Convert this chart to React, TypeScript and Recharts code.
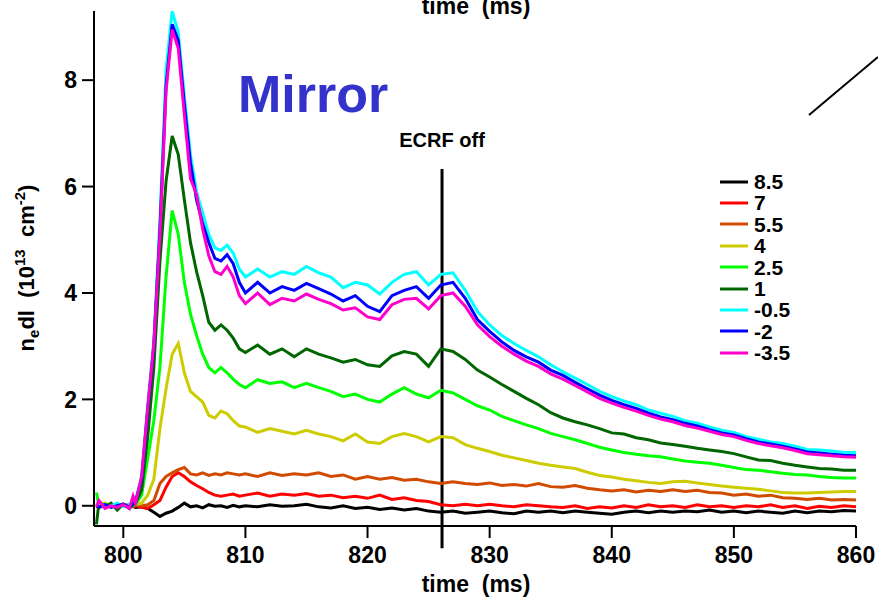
import React from "react";
import {
  LineChart,
  Line,
  XAxis,
  YAxis,
  Legend,
  ReferenceLine,
} from "recharts";

// time samples (ms)
const TIMES = [
  797.8, 798, 798.5, 799, 799.5, 800, 800.5, 800.8, 801, 801.5, 802, 802.5, 803,
  803.5, 804, 804.5, 805, 805.5, 806, 806.5, 807, 807.5, 808, 808.5, 809, 809.5,
  810, 811, 812, 813, 814, 815, 816, 817, 818, 819, 820, 821, 822, 823, 824, 825,
  826, 827, 828, 829, 830, 831, 832, 833, 834, 835,
  836, 837, 838, 839, 840, 841, 842, 843, 844, 845, 846, 847, 848, 849, 850, 851,
  852, 853, 854, 855, 856, 857, 858, 859, 860,
];

// line-integrated density per chord position (10^13 cm^-2)
const N_85 = [
  0.0, -0.03, 0.0, 0.02, -0.02, 0.0, -0.02, 0.0, -0.03, -0.02, -0.05, -0.12, -0.2,
  -0.14, -0.1, -0.03, 0.05, -0.02, 0.0, -0.04, 0.02, -0.01, 0.0, -0.03, 0.01, -0.02,
  0.0, -0.02, 0.02, -0.01, 0.0, 0.03, -0.02, -0.04, 0.0, -0.05, -0.03, -0.07, -0.04, -0.08, -0.05, -0.1,
  -0.12, -0.1, -0.14, -0.12, -0.1, -0.13, -0.15, -0.1, -0.12, -0.1,
  -0.13, -0.1, -0.12, -0.14, -0.16, -0.12, -0.1, -0.13, -0.1, -0.12, -0.1, -0.11, -0.08, -0.12, -0.1, -0.13,
  -0.1, -0.12, -0.14, -0.1, -0.13, -0.1, -0.11, -0.09, -0.1,
];
const N_7 = [
  0.0, -0.02, 0.02, 0.0, -0.03, 0.0, 0.02, -0.02, 0.0, -0.03, -0.05, 0.02, 0.1,
  0.35, 0.55, 0.62, 0.55, 0.45, 0.38, 0.32, 0.25, 0.2, 0.18, 0.2, 0.22, 0.18,
  0.2, 0.24, 0.18, 0.22, 0.2, 0.23, 0.18, 0.2, 0.15, 0.18, 0.14, 0.2, 0.12, 0.15, 0.1, 0.08,
  0.02, 0.0, 0.03, 0.0, 0.03, 0.0, -0.02, 0.02, 0.0, -0.02,
  -0.03, 0.0, -0.05, -0.02, -0.04, 0.0, -0.03, 0.02, -0.02, 0.0, -0.03, 0.02, -0.02, 0.0, -0.03, 0.0,
  -0.02, 0.02, -0.03, 0.0, -0.05, -0.01, -0.03, 0.0, -0.02,
];
const N_55 = [
  0.0, 0.03, 0.0, 0.02, -0.02, 0.0, 0.02, 0.0, 0.02, 0.0, 0.02, 0.1, 0.42,
  0.55, 0.62, 0.68, 0.72, 0.6, 0.58, 0.62, 0.57, 0.6, 0.58, 0.62, 0.6, 0.58,
  0.6, 0.55, 0.62, 0.57, 0.6, 0.58, 0.62, 0.55, 0.58, 0.5, 0.55, 0.5, 0.53, 0.48, 0.5, 0.45,
  0.42, 0.45, 0.42, 0.4, 0.43, 0.38, 0.4, 0.37, 0.42, 0.36,
  0.35, 0.38, 0.33, 0.3, 0.28, 0.3, 0.26, 0.29, 0.27, 0.3, 0.27, 0.29, 0.25, 0.24, 0.2, 0.22,
  0.18, 0.2, 0.15, 0.14, 0.12, 0.14, 0.11, 0.12, 0.11,
];
const N_4 = [
  0.0, 0.02, 0.05, 0.0, -0.02, 0.02, 0.0, 0.03, 0.02, 0.05, 0.2, 0.5, 1.45,
  2.2, 2.85, 3.05, 2.5, 2.15, 2.05, 1.95, 1.7, 1.65, 1.78, 1.73, 1.6, 1.5,
  1.48, 1.38, 1.45, 1.4, 1.35, 1.42, 1.35, 1.3, 1.22, 1.35, 1.2, 1.17, 1.3, 1.36, 1.3, 1.2,
  1.3, 1.28, 1.15, 1.08, 1.02, 0.95, 0.9, 0.85, 0.8, 0.76,
  0.73, 0.7, 0.63, 0.57, 0.54, 0.5, 0.47, 0.44, 0.42, 0.45, 0.46, 0.43, 0.4, 0.37, 0.35, 0.33,
  0.31, 0.28, 0.25, 0.24, 0.24, 0.25, 0.26, 0.27, 0.27,
];
const N_25 = [
  0.25, 0.0, 0.03, -0.02, 0.0, 0.02, -0.03, 0.0, 0.03, 0.2, 0.9, 1.6, 2.6,
  4.3, 5.55, 5.1, 4.2, 3.6, 3.2, 2.85, 2.6, 2.5, 2.6, 2.5, 2.38, 2.28,
  2.22, 2.37, 2.3, 2.33, 2.22, 2.3, 2.22, 2.15, 2.05, 2.1, 2.0, 1.95, 2.1, 2.22, 2.1, 2.03,
  2.17, 2.12, 2.0, 1.88, 1.8, 1.68, 1.6, 1.52, 1.45, 1.36,
  1.3, 1.24, 1.17, 1.1, 1.05, 1.0, 0.97, 0.94, 0.92, 0.88, 0.84, 0.82, 0.8, 0.76, 0.72, 0.68,
  0.67, 0.64, 0.61, 0.59, 0.58, 0.55, 0.53, 0.52, 0.52,
];
const N_1 = [
  -0.35, 0.05, -0.02, 0.05, -0.08, 0.03, -0.05, 0.02, 0.05, 0.3, 1.3, 2.6, 4.6,
  6.1, 6.95, 6.6, 5.75, 4.95, 4.4, 3.95, 3.45, 3.3, 3.4, 3.3, 3.15, 2.95,
  2.88, 3.02, 2.85, 2.95, 2.8, 2.95, 2.85, 2.78, 2.7, 2.75, 2.65, 2.62, 2.82, 2.9, 2.85, 2.62,
  2.95, 2.9, 2.75, 2.55, 2.42, 2.28, 2.15, 2.02, 1.9, 1.75,
  1.65, 1.58, 1.52, 1.45, 1.37, 1.35, 1.28, 1.24, 1.18, 1.15, 1.12, 1.08, 1.05, 1.02, 0.98, 0.92,
  0.86, 0.85, 0.8, 0.76, 0.73, 0.7, 0.69, 0.67, 0.67,
];
const N_M05 = [
  0.0, 0.02, -0.03, 0.0, 0.05, -0.02, 0.03, 0.08, 0.1, 0.55, 1.9, 3.1, 5.4,
  8.2, 9.3, 8.9, 7.7, 6.6, 5.9, 5.5, 5.1, 4.85, 4.8, 4.9, 4.75, 4.45,
  4.3, 4.45, 4.3, 4.4, 4.35, 4.5, 4.38, 4.3, 4.1, 4.2, 4.15, 3.98, 4.2, 4.35, 4.4, 4.15,
  4.35, 4.38, 4.05, 3.65, 3.4, 3.2, 3.05, 2.92, 2.8, 2.65,
  2.52, 2.4, 2.28, 2.15, 2.05, 1.97, 1.9, 1.8, 1.74, 1.68, 1.6, 1.55, 1.48, 1.42, 1.38, 1.3,
  1.25, 1.2, 1.17, 1.12, 1.06, 1.05, 1.03, 1.0, 1.0,
];
const N_M2 = [
  0.0, -0.02, 0.02, -0.03, 0.0, 0.03, -0.02, 0.05, 0.08, 0.5, 1.8, 3.0, 5.2,
  7.9, 9.05, 8.75, 7.55, 6.45, 5.75, 5.3, 4.95, 4.65, 4.6, 4.72, 4.55, 4.2,
  4.0, 4.2, 4.0, 4.12, 4.05, 4.18, 4.08, 3.98, 3.85, 3.95, 3.75, 3.65, 3.95, 4.05, 4.12, 3.9,
  4.15, 4.2, 3.9, 3.5, 3.28, 3.08, 2.92, 2.8, 2.7, 2.55,
  2.45, 2.32, 2.2, 2.08, 1.98, 1.9, 1.83, 1.74, 1.67, 1.62, 1.55, 1.5, 1.43, 1.37, 1.33, 1.26,
  1.2, 1.16, 1.12, 1.07, 1.01, 0.99, 0.97, 0.95, 0.94,
];
const N_M35 = [
  -0.02, 0.1, -0.05, 0.0, -0.03, 0.02, -0.05, 0.18, 0.05, 0.55, 1.85, 3.05, 5.1,
  7.8, 8.95, 8.6, 7.35, 6.15, 5.85, 5.2, 4.7, 4.4, 4.35, 4.5, 4.3, 3.95,
  3.8, 4.0, 3.78, 3.9, 3.85, 3.98, 3.88, 3.8, 3.68, 3.72, 3.55, 3.5, 3.78, 3.88, 3.9, 3.7,
  3.95, 4.0, 3.75, 3.4, 3.18, 3.0, 2.85, 2.72, 2.62, 2.48,
  2.38, 2.26, 2.14, 2.02, 1.93, 1.85, 1.78, 1.7, 1.63, 1.58, 1.51, 1.46, 1.4, 1.34, 1.3, 1.23,
  1.17, 1.13, 1.09, 1.04, 0.98, 0.96, 0.94, 0.92, 0.91,
];

const X_TICKS = [800, 810, 820, 830, 840, 850, 860];
const Y_TICKS = [0, 2, 4, 6, 8];
const ECRF_OFF = 826.1;

const SERIES = [
  { key: "p85", name: "8.5", color: "#000000", values: N_85 },
  { key: "p7", name: "7", color: "#FF0000", values: N_7 },
  { key: "p55", name: "5.5", color: "#D04A00", values: N_55 },
  { key: "p4", name: "4", color: "#CCCC00", values: N_4 },
  { key: "p25", name: "2.5", color: "#00FF00", values: N_25 },
  { key: "p1", name: "1", color: "#006600", values: N_1 },
  { key: "m05", name: "-0.5", color: "#00FFFF", values: N_M05 },
  { key: "m2", name: "-2", color: "#0000FF", values: N_M2 },
  { key: "m35", name: "-3.5", color: "#FF00CC", values: N_M35 },
];

const chartData = TIMES.map((t, i) => {
  const row: Record<string, number> = { t };
  SERIES.forEach((s) => {
    row[s.key] = s.values[i];
  });
  return row;
});

const FONT = "'Liberation Sans', Arial, Helvetica, sans-serif";

function LegendList({ payload }: { payload?: Array<{ value: string; color: string }> }) {
  if (!payload) return null;
  // keep the legend in chord order, same as SERIES
  const order = SERIES.map((s) => s.name);
  const items = [...payload].sort(
    (a, b) => order.indexOf(String(a.value)) - order.indexOf(String(b.value))
  );
  return (
    <div style={{ fontFamily: FONT, fontWeight: "bold", fontSize: 21 }}>
      {items.map((entry, i) => (
        <div
          key={i}
          style={{ display: "flex", alignItems: "center", height: 21.4 }}
        >
          <svg width={36} height={6} style={{ display: "block" }}>
            <line x1={2} y1={3} x2={30} y2={3} stroke={entry.color} strokeWidth={3} />
          </svg>
          <span style={{ lineHeight: "21.4px" }}>{entry.value}</span>
        </div>
      ))}
    </div>
  );
}

export default function App() {
  return (
    <div style={{ position: "absolute", left: 0, top: 0, width: 878, height: 599, background: "#fff" }}>
      <LineChart
        width={878}
        height={599}
        data={chartData}
        margin={{ top: 11, right: 22, bottom: 33, left: 34 }}
      >
        <XAxis
          dataKey="t"
          type="number"
          domain={[797.6, 860]}
          ticks={X_TICKS}
          allowDataOverflow
          height={40}
          tickSize={12}
          tickMargin={9}
          axisLine={{ stroke: "#000", strokeWidth: 2 }}
          tickLine={{ stroke: "#000", strokeWidth: 2 }}
          tick={{ fontSize: 23, fontWeight: "bold", fill: "#000", fontFamily: FONT }}
        />
        <YAxis
          type="number"
          domain={[-0.38, 9.3]}
          ticks={Y_TICKS}
          allowDataOverflow
          width={60}
          tickSize={12}
          tickMargin={5}
          axisLine={{ stroke: "#000", strokeWidth: 2 }}
          tickLine={{ stroke: "#000", strokeWidth: 2 }}
          tick={{ fontSize: 23, fontWeight: "bold", fill: "#000", fontFamily: FONT }}
        />
        {/* vertical + center + middle: the legend takes no room from the plot */}
        <Legend
          layout="vertical"
          verticalAlign="middle"
          align="center"
          content={<LegendList />}
          wrapperStyle={{ position: "absolute", left: 718, top: 171, width: 120 }}
        />
        <ReferenceLine
          segment={[
            { x: ECRF_OFF, y: 6.33 },
            { x: ECRF_OFF, y: -0.8 },
          ]}
          stroke="#000"
          strokeWidth={3}
          ifOverflow="visible"
          label={{
            value: "ECRF off",
            position: "top",
            offset: 22,
            fill: "#000",
            fontSize: 20,
            fontWeight: "bold",
            fontFamily: FONT,
          }}
        />
        {SERIES.map((s) => (
          <Line
            key={s.key}
            dataKey={s.key}
            name={s.name}
            stroke={s.color}
            strokeWidth={3}
            dot={false}
            type="linear"
            isAnimationActive={false}
          />
        ))}
      </LineChart>
      <svg
        width={878}
        height={599}
        style={{ position: "absolute", left: 0, top: 0, pointerEvents: "none" }}
      >
        <text
          x={476}
          y={14}
          textAnchor="middle"
          fontFamily={FONT}
          fontWeight="bold"
          fontSize={23}
          style={{ whiteSpace: "pre" }}
        >
          time  (ms)
        </text>
        <line x1={809} y1={115} x2={878} y2={57} stroke="#000" strokeWidth={2} />
        <text
          x={238}
          y={112}
          fontFamily={FONT}
          fontWeight="bold"
          fontSize={52}
          fill="#3333CC"
        >
          Mirror
        </text>
        <text
          x={476}
          y={592}
          textAnchor="middle"
          fontFamily={FONT}
          fontWeight="bold"
          fontSize={23}
          style={{ whiteSpace: "pre" }}
        >
          time  (ms)
        </text>
        <text
          transform="translate(34, 268) rotate(-90)"
          textAnchor="middle"
          fontFamily={FONT}
          fontWeight="bold"
          fontSize={22}
          style={{ whiteSpace: "pre" }}
        >
          <tspan>n</tspan>
          <tspan fontSize={15} dy={5}>e</tspan>
          <tspan dy={-5}>dl  (10</tspan>
          <tspan fontSize={15} dy={-9}>13</tspan>
          <tspan dy={9}>  cm</tspan>
          <tspan fontSize={15} dy={-9}>-2</tspan>
          <tspan dy={9}>)</tspan>
        </text>
      </svg>
    </div>
  );
}
